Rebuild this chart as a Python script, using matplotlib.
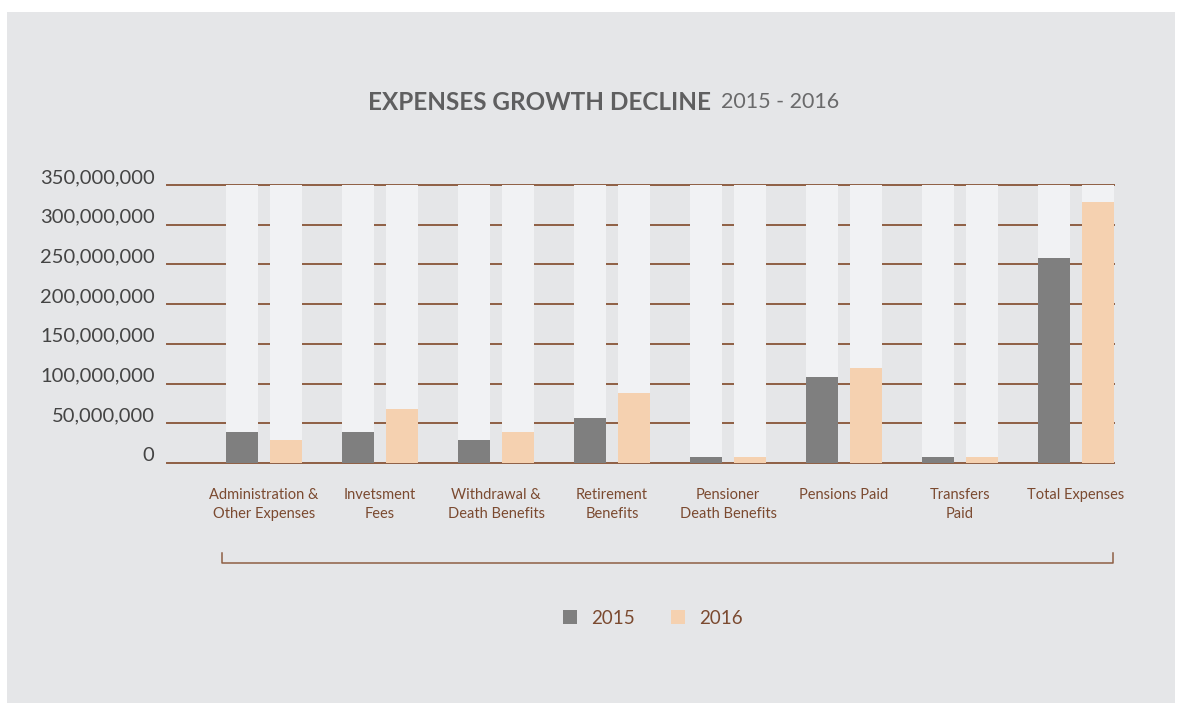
import numpy as np
import matplotlib.pyplot as plt
from matplotlib.patches import Rectangle
from matplotlib.transforms import ScaledTranslation

# expense categories and yearly totals
categories = ["Administration &\nOther Expenses", "Invetsment\nFees", "Withdrawal &\nDeath Benefits",
              "Retirement\nBenefits", "Pensioner\nDeath Benefits", "Pensions Paid",
              "Transfers\nPaid", "Total Expenses"]
exp_2015 = [39e6, 39e6, 29e6, 57e6, 7.5e6, 108e6, 7.5e6, 258e6]
exp_2016 = [29e6, 68e6, 39e6, 88e6, 7.5e6, 120e6, 7.5e6, 329e6]
y_ticks = [0, 50e6, 100e6, 150e6, 200e6, 250e6, 300e6, 350e6]
y_max = 350e6

W, H = 1179, 707
brown = "#7b4a30"
grid_brown = "#8e5f44"

fig = plt.figure(figsize=(W / 100, H / 100), dpi=100)
fig.patch.set_facecolor("white")
# grey panel behind everything
fig.add_artist(Rectangle((7 / W, 1 - 703 / H), (1175 - 7) / W, (703 - 12) / H,
                         transform=fig.transFigure, facecolor="#e5e6e8", edgecolor="none", zorder=0))

ax = fig.add_axes([167 / W, 1 - 463 / H, (1114 - 167) / W, (463 - 185) / H])
ax.set_facecolor("none")
x = np.arange(len(categories))
bw = 32 / 116
off = 22 / 116

# horizontal rules
for t in y_ticks:
    ax.axhline(t, color=grid_brown, lw=1.4, zorder=1, clip_on=False)

# light full-height columns, then the values
ax.bar(x - off, [y_max] * len(x), bw, color="#f1f2f4", zorder=2)
ax.bar(x + off, [y_max] * len(x), bw, color="#f1f2f4", zorder=2)
ax.bar(x - off, exp_2015, bw, color="#7f7f7f", zorder=3, label="2015")
ax.bar(x + off, exp_2016, bw, color="#f5d1b0", zorder=3, label="2016")

ax.set_xlim((167 - 264) / 116, (1114 - 264) / 116)
ax.set_ylim(0, y_max)
for s in ax.spines.values():
    s.set_visible(False)

ax.set_yticks(y_ticks)
ax.set_yticklabels([f"{int(v):,}" for v in y_ticks], fontsize=14.5, color="#444444",
                   family="Lato")
ax.tick_params(axis="y", length=0, pad=9)
for lab in ax.get_yticklabels():
    lab.set_transform(lab.get_transform() + ScaledTranslation(0, 0.09, fig.dpi_scale_trans))

ax.set_xticks(x)
ax.set_xticklabels(categories, fontsize=10.5, color=brown, family="Lato",
                   linespacing=1.45)
ax.tick_params(axis="x", length=0, pad=18)

# bracket under the category labels
bx = [222 / W, 222 / W, 1113 / W, 1113 / W]
by = [1 - 553 / H, 1 - 563 / H, 1 - 563 / H, 1 - 553 / H]
fig.add_artist(plt.Line2D(bx, by, transform=fig.transFigure, color=grid_brown, lw=1.1))

# title in two weights
fig.text(711 / W, 1 - 102 / H, "EXPENSES GROWTH DECLINE", ha="right", va="center",
         fontsize=17.5, fontweight="bold", color="#5f5f60", family="Lato")
fig.text(721 / W, 1 - 102 / H, "2015 - 2016", ha="left", va="center",
         fontsize=15.5, color="#6a6a6b", family="Lato")

# legend
leg = fig.legend(loc="center", bbox_to_anchor=(653 / W, 1 - 618 / H), ncol=2, frameon=False,
                 prop={"family": "Lato", "size": 13.5},
                 handlelength=0.75, handleheight=0.75, handletextpad=0.75, columnspacing=1.9)
for t in leg.get_texts():
    t.set_color(brown)

fig.savefig("out.png", dpi=100, facecolor=fig.get_facecolor())
